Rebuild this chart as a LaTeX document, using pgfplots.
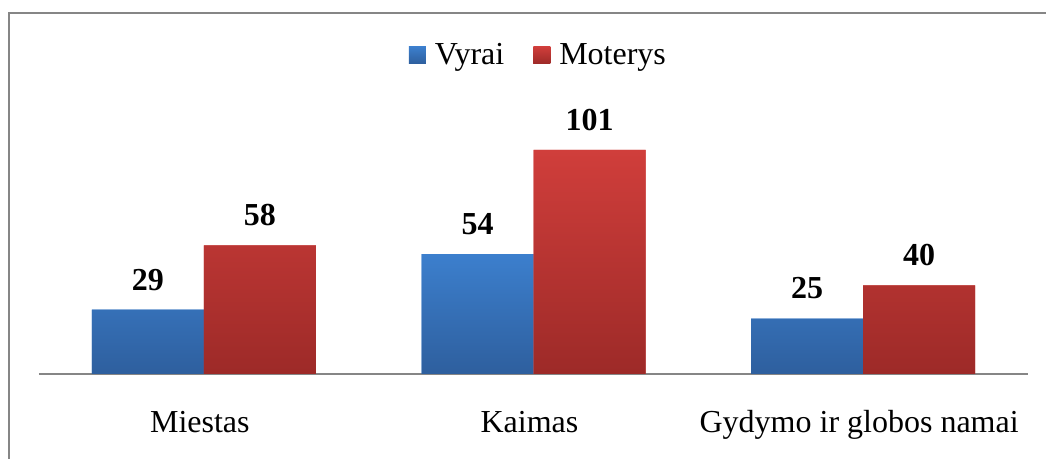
\documentclass[border=0pt]{standalone}
\usepackage{fontspec}
\setmainfont{Liberation Serif}
\usepackage{pgfplots}
\pgfplotsset{compat=1.18}
\definecolor{bluetop}{RGB}{60,127,205}
\definecolor{bluebot}{RGB}{46,95,158}
\definecolor{redtop}{RGB}{208,62,59}
\definecolor{redbot}{RGB}{157,42,40}
\definecolor{framegray}{RGB}{134,134,134}
\begin{document}
\begin{tikzpicture}[x=1pt,y=1pt]
\useasboundingbox (0,0) rectangle (523,229.5);
\draw[framegray, line width=1pt] (4.5,-2) -- (4.5,223) -- (526,223);
\begin{axis}[
  at={(19.5pt,42.5pt)}, anchor=south west,
  scale only axis,
  width=494.5pt, height=133.1pt,
  ymin=0, ymax=120,
  xmin=-0.5, xmax=2.5,
  axis x line=bottom, axis y line=none,
  x axis line style={framegray, line width=1pt, -},
  xtick=data,
  xticklabels={Miestas, Kaimas, Gydymo ir globos namai},
  xtick style={draw=none},
  xticklabel style={anchor=base, yshift=-25pt, xshift=-2pt, font=\fontsize{16}{19}\selectfont},
  ybar=0pt, bar width=56pt,
  nodes near coords,
  /pgf/number format/assume math mode=true,
  every node near coord/.append style={anchor=center, yshift=15pt, font=\fontsize{16}{19}\selectfont\bfseries, text=black},
  legend columns=2,
  legend style={at={(0.506,1.198)}, anchor=center, draw=none, fill=none,
    font=\fontsize{16}{19}\selectfont,
    /tikz/every odd column/.append style={column sep=2.5pt},
    /tikz/every even column/.append style={column sep=12.5pt}},
  legend image code/.code={\path[#1] (0pt,-4.25pt) rectangle (8.5pt,4.25pt);},
  clip=false,
]
\addplot[draw=none, fill=bluetop, top color=bluetop, bottom color=bluebot] coordinates {(0,29) (1,54) (2,25)};
\addplot[draw=none, fill=redtop, top color=redtop, bottom color=redbot] coordinates {(0,58) (1,101) (2,40)};
\legend{Vyrai, Moterys}
\end{axis}
\end{tikzpicture}
\end{document}
